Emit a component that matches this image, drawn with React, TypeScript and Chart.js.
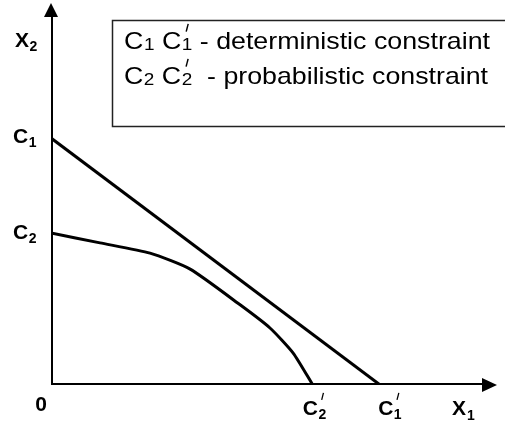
import { useEffect, useRef } from 'react';
import { Chart, registerables } from 'chart.js';

Chart.register(...registerables);

// ---- data (abstract units, origin at 0) ----
const axisMax = 100;
const axisLineEnd = 97;
const deterministicX = [0, 73.8];
const deterministicY = [65, 0];
const probabilisticX = [0, 11, 22.2, 31.2, 42.4, 49.1, 54.3, 58.7];
const probabilisticY = [40, 37.4, 34.7, 30.5, 21.1, 15, 8.4, 0];
const legendTexts = [' - deterministic constraint', '  - probabilistic constraint'];
const legendSubs = ['1', '2'];
const xAxisTitle = ['X', '1'];
const yAxisTitle = ['X', '2'];
const originLabel = '0';

const FONT = '"Liberation Sans", Arial, Helvetica, sans-serif';

function toPoints(xs: number[], ys: number[]) {
  return xs.map((x, i) => ({ x, y: ys[i] }));
}

function drawPrime(ctx: CanvasRenderingContext2D, x: number, yTop: number, len: number) {
  ctx.save();
  ctx.lineWidth = 1.3;
  ctx.strokeStyle = '#000';
  ctx.beginPath();
  ctx.moveTo(x + 1.5, yTop);
  ctx.lineTo(x - 0.3, yTop + len);
  ctx.stroke();
  ctx.restore();
}

// C with subscript (and optional prime) at left x, baseline y
function drawC(
  ctx: CanvasRenderingContext2D,
  x: number,
  y: number,
  sub: string,
  prime: boolean,
  size: number,
  subSize: number,
  bold: boolean,
  subDrop: number
) {
  const w = bold ? 'bold ' : '';
  ctx.font = `${w}${size}px ${FONT}`;
  ctx.fillText('C', x, y);
  const cw = ctx.measureText('C').width;
  ctx.font = `${w}${subSize}px ${FONT}`;
  const sx = x + cw + 0.5;
  ctx.fillText(sub, sx, y + subDrop);
  const sw = ctx.measureText(sub).width;
  if (prime) drawPrime(ctx, sx + sw * 0.45, y - size * 1.05, size * 0.33);
  return sx + sw - x;
}

const overlayPlugin = {
  id: 'overlay',
  afterDatasetsDraw(chart: any) {
    const ctx: CanvasRenderingContext2D = chart.ctx;
    const xs = chart.scales.x;
    const ys = chart.scales.y;
    const ox = xs.getPixelForValue(0);
    const oy = ys.getPixelForValue(0);
    const xTip = xs.getPixelForValue(axisMax);
    const yTip = ys.getPixelForValue(axisMax);
    ctx.save();
    ctx.fillStyle = '#000';
    // arrowheads
    ctx.beginPath();
    ctx.moveTo(ox, yTip - 2);
    ctx.lineTo(ox - 7, yTip + 12);
    ctx.lineTo(ox + 7, yTip + 12);
    ctx.closePath();
    ctx.fill();
    ctx.beginPath();
    ctx.moveTo(xTip, oy);
    ctx.lineTo(xTip - 15, oy - 7);
    ctx.lineTo(xTip - 15, oy + 7);
    ctx.closePath();
    ctx.fill();

    ctx.textBaseline = 'alphabetic';
    ctx.textAlign = 'left';
    // axis titles
    ctx.font = `bold 21px ${FONT}`;
    ctx.fillText(yAxisTitle[0], ox - 36, yTip + 42);
    let w = ctx.measureText(yAxisTitle[0]).width;
    ctx.font = `bold 14px ${FONT}`;
    ctx.fillText(yAxisTitle[1], ox - 36 + w + 0.5, yTip + 46);

    ctx.font = `bold 21px ${FONT}`;
    ctx.fillText(xAxisTitle[0], xTip - 45, oy + 30);
    w = ctx.measureText(xAxisTitle[0]).width;
    ctx.font = `bold 14px ${FONT}`;
    ctx.fillText(xAxisTitle[1], xTip - 45 + w + 1, oy + 35);

    // origin
    ctx.font = `bold 21px ${FONT}`;
    ctx.textAlign = 'center';
    ctx.fillText(originLabel, ox - 10, oy + 26);
    ctx.textAlign = 'left';

    // y intercept labels
    drawC(ctx, ox - 38, ys.getPixelForValue(deterministicY[0]) + 5, '1', false, 21, 14, true, 4);
    drawC(ctx, ox - 38, ys.getPixelForValue(probabilisticY[0]) + 6, '2', false, 21, 14, true, 4);
    // x intercept labels
    const c1x = xs.getPixelForValue(deterministicX[deterministicX.length - 1]);
    const c2x = xs.getPixelForValue(probabilisticX[probabilisticX.length - 1]);
    drawC(ctx, c2x - 10, oy + 30, '2', true, 21, 14, true, 4);
    drawC(ctx, c1x - 2, oy + 30, '1', true, 21, 14, true, 4);

    // legend box
    ctx.lineWidth = 1.5;
    ctx.strokeStyle = '#222';
    ctx.strokeRect(112.5, 20.5, 410, 106);

    // legend text (horizontally stretched like the reference)
    const baselines = [49, 84];
    legendTexts.forEach((txt, i) => {
      ctx.save();
      ctx.translate(124, baselines[i]);
      ctx.font = `24px ${FONT}`;
      const cw = ctx.measureText('C').width;
      ctx.font = `17px ${FONT}`;
      const sw = ctx.measureText(legendSubs[i]).width;
      ctx.font = `24px ${FONT}`;
      const spw = ctx.measureText(' ').width;
      const tw = ctx.measureText(txt).width;
      const total = 2 * (cw + 0.5 + sw) + spw + tw;
      const target = (i === 0 ? 490 : 488) - 124;
      ctx.scale(target / total, 1);
      let x = 0;
      x += drawC(ctx, x, 0, legendSubs[i], false, 24, 17, false, 1);
      x += spw;
      x += drawC(ctx, x, 0, legendSubs[i], true, 24, 17, false, 1);
      ctx.font = `24px ${FONT}`;
      ctx.fillText(txt, x, 0);
      ctx.restore();
    });
    ctx.restore();
  },
};

export default function App() {
  const ref = useRef<HTMLCanvasElement | null>(null);
  useEffect(() => {
    if (!ref.current) return;
    const chart = new Chart(ref.current, {
      type: 'scatter',
      data: {
        datasets: [
          {
            label: 'x-axis',
            data: [{ x: 0, y: 0 }, { x: axisLineEnd, y: 0 }],
            showLine: true,
            borderColor: '#000',
            borderWidth: 4,
            pointRadius: 0,
            borderCapStyle: 'square',
          },
          {
            label: 'y-axis',
            data: [{ x: 0, y: 0 }, { x: 0, y: axisLineEnd }],
            showLine: true,
            borderColor: '#000',
            borderWidth: 4,
            pointRadius: 0,
            borderCapStyle: 'square',
          },
          {
            label: 'deterministic constraint',
            data: toPoints(deterministicX, deterministicY),
            showLine: true,
            borderColor: '#000',
            borderWidth: 3,
            pointRadius: 0,
          },
          {
            label: 'probabilistic constraint',
            data: toPoints(probabilisticX, probabilisticY),
            showLine: true,
            borderColor: '#000',
            borderWidth: 3,
            pointRadius: 0,
            tension: 0.2,
          },
        ],
      } as any,
      options: {
        animation: false,
        responsive: false,
        devicePixelRatio: 1,
        layout: { padding: { left: 51, right: 8, top: 5, bottom: 40 } },
        plugins: { legend: { display: false }, tooltip: { enabled: false } },
        scales: {
          x: { type: 'linear', min: 0, max: axisMax, display: false },
          y: { type: 'linear', min: 0, max: axisMax, display: false },
        },
        events: [],
      },
      plugins: [overlayPlugin],
    });
    return () => chart.destroy();
  }, []);
  return (
    <div style={{ position: 'fixed', left: 0, top: 0, width: 505, height: 425, background: '#fff' }}>
      <canvas ref={ref} width={505} height={425} style={{ display: 'block' }} />
    </div>
  );
}
